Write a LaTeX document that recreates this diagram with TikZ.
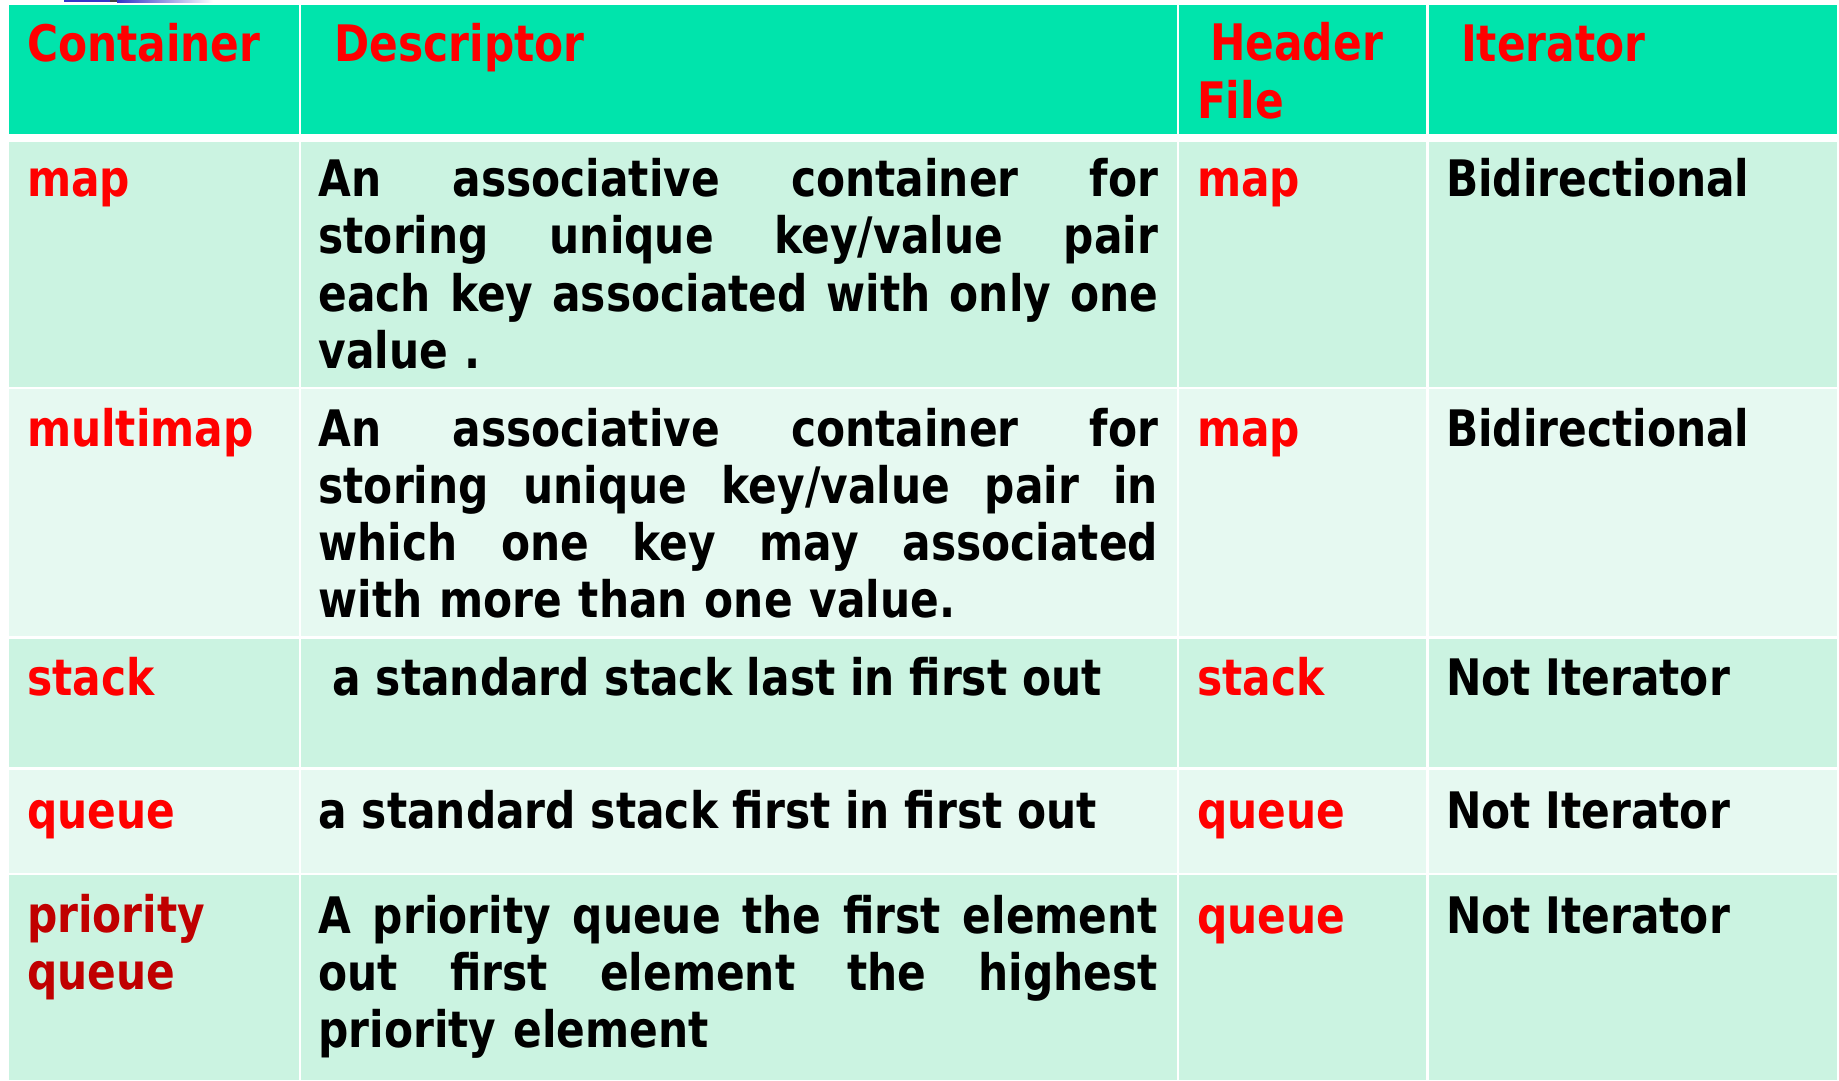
\documentclass[tikz,border=0pt]{standalone}
\usepackage{fontspec}
\setmainfont{DejaVu Sans}[FakeStretch=0.842]
\definecolor{headfill}{RGB}{0,228,172}
\definecolor{rowA}{RGB}{203,243,225}
\definecolor{rowB}{RGB}{230,249,241}
\definecolor{keyred}{RGB}{255,0,0}
\definecolor{darkred}{RGB}{192,0,0}
\definecolor{barblue}{RGB}{52,52,200}
% one justified line of a description cell: spaces share the slack equally
\newcommand{\jline}[1]{\makebox[419.8pt][s]{\spaceskip=\fontdimen2\font plus 1fil\relax#1}}
\begin{document}
\begin{tikzpicture}[x=0.5pt,y=-0.5pt,
  txt/.style={anchor=base west, inner sep=0pt, outer sep=0pt,
    font=\bfseries\fontsize{25.15pt}{28.65pt}\selectfont, align=left},
  keytxt/.style={txt, text=keyred},
  desctxt/.style={txt, text=black, text width=419.8pt, align=left},
  plaintxt/.style={txt, text=black}]
\useasboundingbox (0,0) rectangle (1839,1080);
\fill[white] (0,0) rectangle (1839,1080);

% thin title bar fragment above the table
\fill[barblue] (64,0) rectangle (110,2.4);
\fill[black!75] (110,0) rectangle (117,2.4);
\shade[left color=barblue, right color=white] (117,0) rectangle (213,2.4);

% column and row limits
\def\cA{9.3}\def\cAr{299}
\def\cB{301.3}\def\cBr{1176.7}
\def\cC{1179.3}\def\cCr{1426}
\def\cD{1428.7}\def\cDr{1836.7}

% header row
\foreach \l/\r in {\cA/\cAr,\cB/\cBr,\cC/\cCr,\cD/\cDr}
  \fill[headfill] (\l,5) rectangle (\r,134);
% body rows
\foreach \t/\b/\c in {142.3/386.7/rowA, 389.3/636/rowB, 639/767.3/rowA, 770/872.7/rowB, 875/1080/rowA}
  \foreach \l/\r in {\cA/\cAr,\cB/\cBr,\cC/\cCr,\cD/\cDr}
    \fill[\c] (\l,\t) rectangle (\r,\b);

% header texts (a multi-line node sits on its last baseline)
\node[keytxt] (hcont) at (27,61.7) {Container};
\node[keytxt] (hdesc) at (334.5,61.7) {Descriptor};
\node[keytxt] (hfile) at (1197,118.3) {\hspace*{6.6pt}Header\\File};
\node[keytxt] (hiter) at (1461,61.7) {Iterator};

% map
\node[keytxt] (c1) at (27,196.7) {map};
\node[desctxt] (d1) at (318.5,196.7) {\jline{An associative container for}\\
  \jline{storing unique key/value pair}\\
  \jline{each key associated with only one}\\
  value .};
\node[keytxt] (f1) at (1197,196.7) {map};
\node[plaintxt] (i1) at (1446,196.7) {Bidirectional};

% multimap
\node[keytxt] (c2) at (27,446) {multimap};
\node[desctxt] (d2) at (318.5,446) {\jline{An associative container for}\\
  \jline{storing unique key/value pair in}\\
  \jline{which one key may associated}\\
  with more than one value.};
\node[keytxt] (f2) at (1197,446) {map};
\node[plaintxt] (i2) at (1446,446) {Bidirectional};

% stack
\node[keytxt] (c3) at (27,695.7) {stack};
\node[plaintxt] (d3) at (332.5,695.7) {a standard stack last in first out};
\node[keytxt] (f3) at (1197,695.7) {stack};
\node[plaintxt] (i3) at (1446,695.7) {Not Iterator};

% queue
\node[keytxt] (c4) at (27,828.3) {queue};
\node[plaintxt] (d4) at (318.5,828.3) {a standard stack first in first out};
\node[keytxt] (f4) at (1197,828.3) {queue};
\node[plaintxt] (i4) at (1446,828.3) {Not Iterator};

% priority queue
\node[txt, text=darkred] (c5) at (27,989.3) {priority\\queue};
\node[desctxt] (d5) at (318.5,933.3) {\jline{A priority queue the first element}\\
  \jline{out first element the highest}\\
  priority element};
\node[keytxt] (f5) at (1197,933.3) {queue};
\node[plaintxt] (i5) at (1446,933.3) {Not Iterator};
\end{tikzpicture}
\end{document}
